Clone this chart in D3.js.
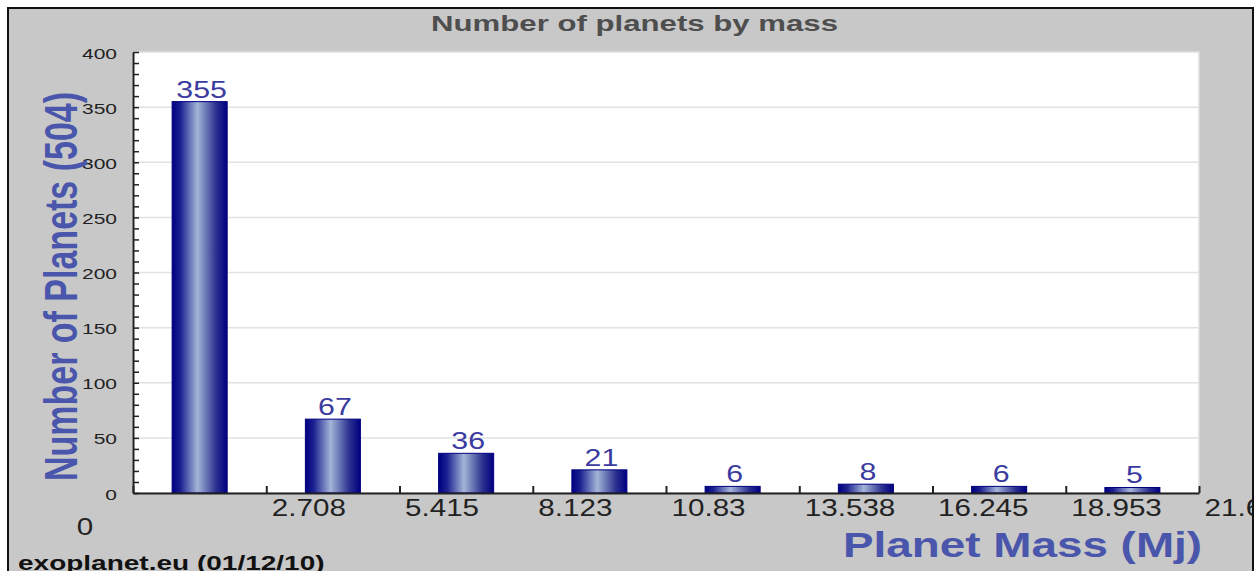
<!DOCTYPE html>
<html>
<head>
<meta charset="utf-8">
<script src="https://cdn.jsdelivr.net/npm/d3@7"></script>
<style>
  html, body { margin: 0; padding: 0; background: #ffffff; }
  svg { display: block; }
</style>
</head>
<body>
<svg id="chart" width="1260" height="571"></svg>
<script>
// Planet counts per mass bin (Jupiter masses)
const binEdges = [0, 2.708, 5.415, 8.123, 10.83, 13.538, 16.245, 18.953, 21.66];
const tickLabels = ["0", "2.708", "5.415", "8.123", "10.83", "13.538", "16.245", "18.953", "21.66"];
const planetCounts = [355, 67, 36, 21, 6, 8, 6, 5];
const yMajorTicks = [0, 50, 100, 150, 200, 250, 300, 350, 400];

const chartTitle = "Number of planets by mass";
const yTitle = "Number of Planets (504)";
const xTitle = "Planet Mass (Mj)";
const footer = "exoplanet.eu (01/12/10)";

const svg = d3.select("#chart");
const font = "'Liberation Sans', Arial, sans-serif";

// Frame clip so anything past the panel edge is cut off
svg.append("defs").append("clipPath").attr("id", "frameClip")
  .append("rect").attr("x", 8).attr("y", 8).attr("width", 1245).attr("height", 570);

const grad = svg.select("defs").append("linearGradient")
  .attr("id", "barGrad").attr("x1", 0).attr("x2", 1).attr("y1", 0).attr("y2", 0);
grad.append("stop").attr("offset", "0%").attr("stop-color", "#000080");
grad.append("stop").attr("offset", "15%").attr("stop-color", "#1a2090");
grad.append("stop").attr("offset", "46%").attr("stop-color", "#a3b5d7");
grad.append("stop").attr("offset", "80%").attr("stop-color", "#2a318f");
grad.append("stop").attr("offset", "100%").attr("stop-color", "#000080");

const root = svg.append("g").attr("clip-path", "url(#frameClip)");

// Grey panel with black frame
root.append("rect").attr("x", 8).attr("y", 8).attr("width", 1245).attr("height", 570)
  .attr("fill", "#c8c8c8");
svg.append("rect").attr("x", 8).attr("y", 8).attr("width", 1245).attr("height", 580)
  .attr("fill", "none").attr("stroke", "#111").attr("stroke-width", 2);

// Scales
const x = d3.scaleLinear().domain([0, binEdges[binEdges.length - 1]]).range([133, 1199]);
const y = d3.scaleLinear().domain([0, 400]).range([493, 52]);

// Plot area
root.append("rect")
  .attr("x", x.range()[0]).attr("y", y(400))
  .attr("width", x.range()[1] - x.range()[0]).attr("height", y(0) - y(400))
  .attr("fill", "#ffffff").attr("stroke", "#dedede").attr("stroke-width", 1.5);

// Horizontal gridlines
root.append("g").selectAll("line")
  .data(yMajorTicks.filter(d => d > 0 && d < 400))
  .join("line")
  .attr("x1", x.range()[0]).attr("x2", x.range()[1])
  .attr("y1", d => y(d)).attr("y2", d => y(d))
  .attr("stroke", "#e2e2e2").attr("stroke-width", 1.5);

// Bars
const bins = planetCounts.map((c, i) => ({ lo: binEdges[i], hi: binEdges[i + 1], count: c }));
const barFrac = 0.413;
const barW = d => (x(d.hi) - x(d.lo)) * barFrac;
const barCx = d => (x(d.lo) + x(d.hi)) / 2;

root.append("g").selectAll("rect")
  .data(bins)
  .join("rect")
  .attr("x", d => barCx(d) - barW(d) / 2)
  .attr("y", d => y(d.count))
  .attr("width", barW)
  .attr("height", d => y(0) - y(d.count))
  .attr("fill", "url(#barGrad)")
  .attr("stroke", "#000080").attr("stroke-width", 1);

// Value labels above bars
root.append("g").selectAll("text")
  .data(bins)
  .join("text")
  .attr("transform", d => `translate(${barCx(d) + 2},${y(d.count) - 4}) scale(1.32,1)`)
  .attr("text-anchor", "middle")
  .attr("font-family", font).attr("font-size", 23)
  .attr("fill", "#3b3ba0")
  .text(d => d.count);

// Y axis: minor ticks every 10, labels every 50
const yAxis = d3.axisLeft(y)
  .tickValues(d3.range(0, 401, 10))
  .tickSizeInner(-6).tickSizeOuter(0)
  .tickFormat(d => (d % 50 === 0 ? d : ""));
const gy = root.append("g").attr("transform", `translate(${x.range()[0]},0)`).call(yAxis);
gy.select(".domain").attr("stroke", "#222").attr("stroke-width", 2);
gy.selectAll(".tick line").attr("stroke", "#222").attr("stroke-width", 1.5);
gy.selectAll(".tick text")
  .attr("x", null).attr("dy", null)
  .attr("transform", "translate(-16,6) scale(1.5,1)")
  .attr("text-anchor", "end")
  .attr("font-family", font).attr("font-size", 14)
  .attr("fill", "#222");

// X axis: ticks point up into the plot, labels start just right of each tick
const xAxis = d3.axisBottom(x)
  .tickValues(binEdges)
  .tickSizeInner(-7).tickSizeOuter(0)
  .tickFormat((d, i) => tickLabels[i]);
const gx = root.append("g").attr("transform", `translate(0,${y(0)})`).call(xAxis);
gx.select(".domain").attr("stroke", "#222").attr("stroke-width", 2);
gx.selectAll(".tick line").attr("stroke", "#222").attr("stroke-width", 2);
gx.selectAll(".tick text")
  .attr("y", null).attr("dy", null)
  .attr("text-anchor", "start")
  .attr("transform", "translate(5,23) scale(1.26,1)")
  .attr("font-family", font).attr("font-size", 23.5)
  .attr("fill", "#222");
// the origin label sits lower and to the left of the axis
gx.selectAll(".tick text").filter((d, i) => i === 0)
  .attr("text-anchor", "middle")
  .attr("transform", "translate(-48.5,42) scale(1.26,1)");

// Titles
root.append("text")
  .attr("transform", "translate(634.5,31) scale(1.417,1)")
  .attr("text-anchor", "middle")
  .attr("font-family", font).attr("font-weight", "bold").attr("font-size", 22)
  .attr("fill", "#4e4e4e")
  .text(chartTitle);

root.append("text")
  .attr("transform", "translate(76.5,286.5) scale(1.36,1) rotate(-90)")
  .attr("text-anchor", "middle")
  .attr("font-family", font).attr("font-weight", "bold").attr("font-size", 34)
  .attr("fill", "#4a56ab")
  .text(yTitle);

root.append("text")
  .attr("transform", "translate(843,557) scale(1.31,1)")
  .attr("text-anchor", "start")
  .attr("font-family", font).attr("font-weight", "bold").attr("font-size", 35)
  .attr("fill", "#4a56ab")
  .text(xTitle);

root.append("text")
  .attr("transform", "translate(18,570) scale(1.4,1)")
  .attr("text-anchor", "start")
  .attr("font-family", font).attr("font-weight", "bold").attr("font-size", 20)
  .attr("fill", "#111")
  .text(footer);
</script>
</body>
</html>
